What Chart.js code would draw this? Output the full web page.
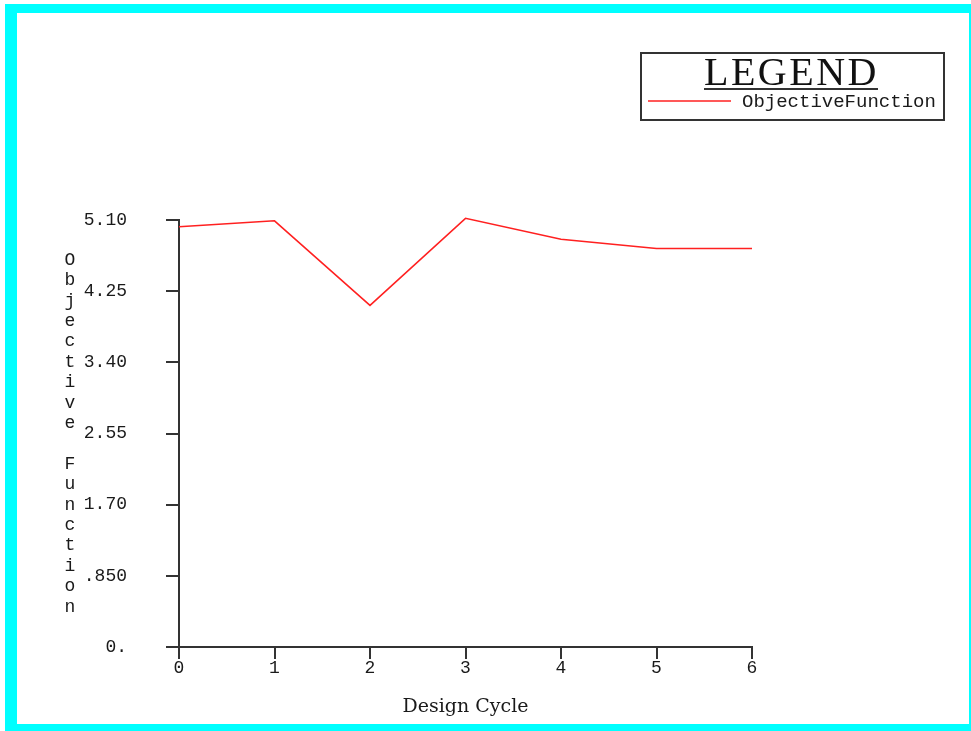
<!DOCTYPE html>
<html>
<head>
<meta charset="utf-8">
<title>Objective Function</title>
<script src="https://cdn.jsdelivr.net/npm/chart.js@4/dist/chart.umd.min.js"></script>
<style>
  html, body { margin: 0; padding: 0; background: #fff; }
  #wrap { position: relative; width: 971px; height: 731px; overflow: hidden; }
  /* cyan frame */
  #frame {
    position: absolute; left: 5px; top: 4px; right: 0; bottom: 0;
    border-top: 9px solid #00ffff;
    border-left: 12px solid #00ffff;
    border-bottom: 7px solid #00ffff;
    border-right: 2px solid #00ffff;
  }
  #chart { position: absolute; left: 0; top: 0; }
</style>
</head>
<body>
<div id="wrap">
  <div id="frame"></div>
  <canvas id="chart" width="971" height="731"></canvas>
</div>

<script>
// data
const designCycles = ['0', '1', '2', '3', '4', '5', '6'];
const objectiveValues = [5.02, 5.09, 4.08, 5.12, 4.87, 4.76, 4.76];
const yTickValues = [0, 0.85, 1.70, 2.55, 3.40, 4.25, 5.10];
const yTickLabels = ['0.', '.850', '1.70', '2.55', '3.40', '4.25', '5.10'];
const yTitle = 'Objective Function';
const legendTitle = 'LEGEND';

const axisColor = '#333';
const monoFont = "'Liberation Mono', 'DejaVu Sans Mono', monospace";
const serifFont = "'Liberation Serif', 'DejaVu Serif', serif";

// vertical stacked y title
const stackedTitle = {
  id: 'stackedTitle',
  afterDraw(chart) {
    const c = chart.ctx;
    c.save();
    c.fillStyle = '#1a1a1a';
    c.font = '18px ' + monoFont;
    c.textAlign = 'center';
    c.textBaseline = 'middle';
    for (let i = 0; i < yTitle.length; i++) {
      c.fillText(yTitle[i], 70, 260 + i * 20.4);
    }
    c.restore();
  }
};

// boxed legend at top right
const boxLegend = {
  id: 'boxLegend',
  afterDraw(chart) {
    const c = chart.ctx;
    const ds = chart.data.datasets[0];
    c.save();
    c.strokeStyle = axisColor;
    c.lineWidth = 2;
    c.strokeRect(641, 53, 303, 67);

    c.fillStyle = '#111';
    c.font = '40px ' + serifFont;
    c.letterSpacing = '2.5px';
    c.textAlign = 'left';
    c.textBaseline = 'alphabetic';
    c.fillText(legendTitle, 704, 85);
    c.letterSpacing = '0px';
    c.beginPath();
    c.moveTo(704, 89);
    c.lineTo(878, 89);
    c.stroke();

    c.strokeStyle = ds.borderColor;
    c.lineWidth = 1.5;
    c.beginPath();
    c.moveTo(648, 101);
    c.lineTo(731, 101);
    c.stroke();

    c.fillStyle = '#1a1a1a';
    c.font = '19px ' + monoFont;
    c.textBaseline = 'middle';
    c.fillText(ds.label, 742, 102);
    c.restore();
  }
};

new Chart(document.getElementById('chart'), {
  type: 'line',
  data: {
    labels: designCycles,
    datasets: [{
      label: 'ObjectiveFunction',
      data: objectiveValues,
      borderColor: '#ff2020',
      borderWidth: 1.5,
      pointRadius: 0,
      tension: 0,
      fill: false,
      clip: false
    }]
  },
  options: {
    responsive: false,
    animation: false,
    layout: { padding: { left: 0, top: 220, right: 219, bottom: 0 } },
    plugins: {
      legend: { display: false },
      tooltip: { enabled: false }
    },
    scales: {
      x: {
        offset: false,
        afterFit(scale) { scale.height = 84; },
        border: { display: true, color: axisColor, width: 2 },
        grid: { drawOnChartArea: false, drawTicks: true, tickLength: 12, color: axisColor, lineWidth: 2 },
        ticks: { color: '#1a1a1a', font: { family: monoFont, size: 18 }, padding: -2, maxRotation: 0 },
        title: {
          display: true,
          text: 'Design Cycle',
          color: '#1a1a1a',
          font: { family: "'DejaVu Serif', serif", size: 19 },
          padding: { top: 4, bottom: 13 }
        }
      },
      y: {
        min: 0,
        max: 5.1,
        afterFit(scale) { scale.width = 179; },
        afterBuildTicks(scale) {
          scale.ticks = yTickValues.map(v => ({ value: v }));
        },
        border: { display: true, color: axisColor, width: 2 },
        grid: { drawOnChartArea: false, drawTicks: true, tickLength: 13, color: axisColor, lineWidth: 2 },
        ticks: {
          color: '#1a1a1a',
          font: { family: monoFont, size: 18 },
          padding: 39,
          callback: function (value, index) { return yTickLabels[index]; }
        }
      }
    }
  },
  plugins: [stackedTitle, boxLegend]
});
</script>
</body>
</html>
